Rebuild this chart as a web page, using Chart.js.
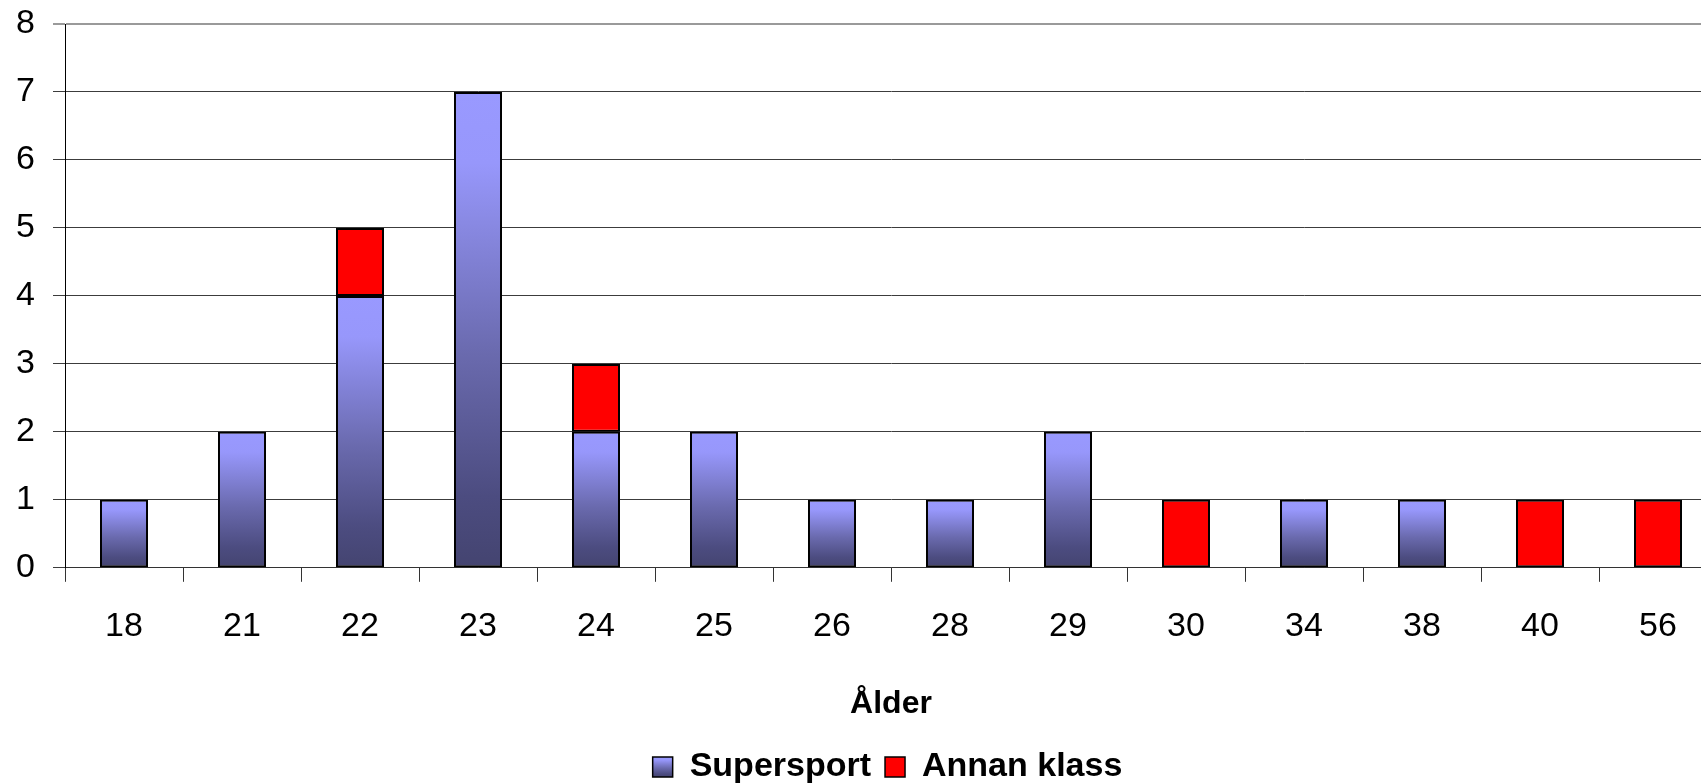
<!DOCTYPE html>
<html>
<head>
<meta charset="utf-8">
<script src="https://cdn.jsdelivr.net/npm/chart.js@4/dist/chart.umd.min.js"></script>
<style>
  html, body { margin: 0; padding: 0; background: #fff; overflow: hidden; }
  #wrap { position: absolute; left: 0; top: 0; width: 1758px; height: 783px; }
</style>
</head>
<body>
<div id="wrap"><canvas id="ageChart"></canvas></div>
<script>
// Ålder per klass — staplade antal
const ages = ['18', '21', '22', '23', '24', '25', '26', '28', '29', '30', '34', '38', '40', '56'];
const supersport = [1, 2, 4, 7, 2, 2, 1, 1, 2, null, 1, 1, null, null];
const annanKlass = [null, null, 1, null, 1, null, null, null, null, 1, null, null, 1, 1];
const yTicks = [0, 1, 2, 3, 4, 5, 6, 7, 8];

const FONT = "'Liberation Sans', Arial, sans-serif";

// ljus topp -> mörk botten, som i Excel-staplarna
function blueGradient(ctx, top, bottom) {
  const g = ctx.createLinearGradient(0, top, 0, bottom);
  g.addColorStop(0, '#9999ff');
  g.addColorStop(0.15, '#9797fb');
  g.addColorStop(0.55, '#6a6aae');
  g.addColorStop(0.85, '#4c4c80');
  g.addColorStop(1, '#444470');
  return g;
}

function barFill(c) {
  const chart = c.chart;
  const y = chart.scales.y;
  if (c.type !== 'data' || !y || !chart.chartArea) return '#9999ff';
  const v = c.raw;
  if (v == null) return '#9999ff';
  return blueGradient(chart.ctx, y.getPixelForValue(v), y.getPixelForValue(0));
}

// legenden: flytta den lite åt höger och ge Supersport-rutan samma gradient
const legendTweaks = {
  id: 'legendTweaks',
  afterLayout(chart) {
    const lg = chart.legend;
    if (!lg) return;
    lg.left += 21;
    lg.right += 21;
  },
  beforeDraw(chart) {
    const lg = chart.legend;
    if (!lg || !lg.legendHitBoxes || !lg.legendItems) return;
    const hb = lg.legendHitBoxes[0];
    const bh = lg.options.labels.boxHeight;
    const top = hb.top + (hb.height - bh) / 2;
    lg.legendItems[0].fillStyle = blueGradient(chart.ctx, top, top + bh);
  }
};

new Chart(document.getElementById('ageChart'), {
  type: 'bar',
  data: {
    labels: ages,
    datasets: [
      {
        label: 'Supersport',
        data: supersport,
        backgroundColor: barFill,
        borderColor: '#000',
        borderWidth: 2,
        borderSkipped: false,
        barPercentage: 0.407,
        categoryPercentage: 1,
      },
      {
        label: 'Annan klass',
        data: annanKlass,
        backgroundColor: '#ff0000',
        borderColor: '#000',
        borderWidth: 2,
        borderSkipped: false,
        barPercentage: 0.407,
        categoryPercentage: 1,
      },
    ],
  },
  options: {
    responsive: true,
    maintainAspectRatio: false,
    animation: false,
    layout: { padding: { left: 16, right: 41, top: 0, bottom: -11 } },
    plugins: {
      tooltip: { enabled: false },
      legend: {
        position: 'bottom',
        labels: {
          color: '#000',
          font: { family: FONT, size: 34, weight: 'bold' },
          boxWidth: 20,
          boxHeight: 20,
          padding: 14,
          generateLabels(chart) {
            return Chart.defaults.plugins.legend.labels.generateLabels(chart).map(item => ({
              ...item, strokeStyle: '#000', lineWidth: 1.5,
            }));
          },
        },
      },
    },
    scales: {
      x: {
        stacked: true,
        grid: { display: true, drawOnChartArea: false, offset: true, tickLength: 14, color: '#333', lineWidth: 1 },
        border: { display: true, color: '#333', width: 1 },
        ticks: { color: '#000', font: { family: FONT, size: 34 }, padding: 24, maxRotation: 0 },
        title: {
          display: true,
          text: 'Ålder',
          color: '#000',
          font: { family: FONT, size: 32, weight: 'bold' },
          padding: { top: 14, bottom: 13 },
        },
      },
      y: {
        stacked: true,
        min: 0,
        max: 8,
        afterBuildTicks(scale) { scale.ticks = yTicks.map(v => ({ value: v })); },
        afterFit(scale) {
          // bara en tickpadding, och plotytan börjar precis under översta etiketten
          scale.width = 49;
          scale.paddingTop = 24;
          scale.paddingBottom = 0;
        },
        grid: {
          color: c => (c.tick && c.tick.value === 8 ? '#9a9a9a' : '#3c3c3c'),
          lineWidth: c => (c.tick && c.tick.value === 8 ? 2 : 1),
          tickLength: 12,
        },
        border: { display: true, color: '#000', width: 1 },
        ticks: { color: '#000', font: { family: FONT, size: 34 }, padding: 18 },
      },
    },
  },
  plugins: [legendTweaks],
});
</script>
</body>
</html>
